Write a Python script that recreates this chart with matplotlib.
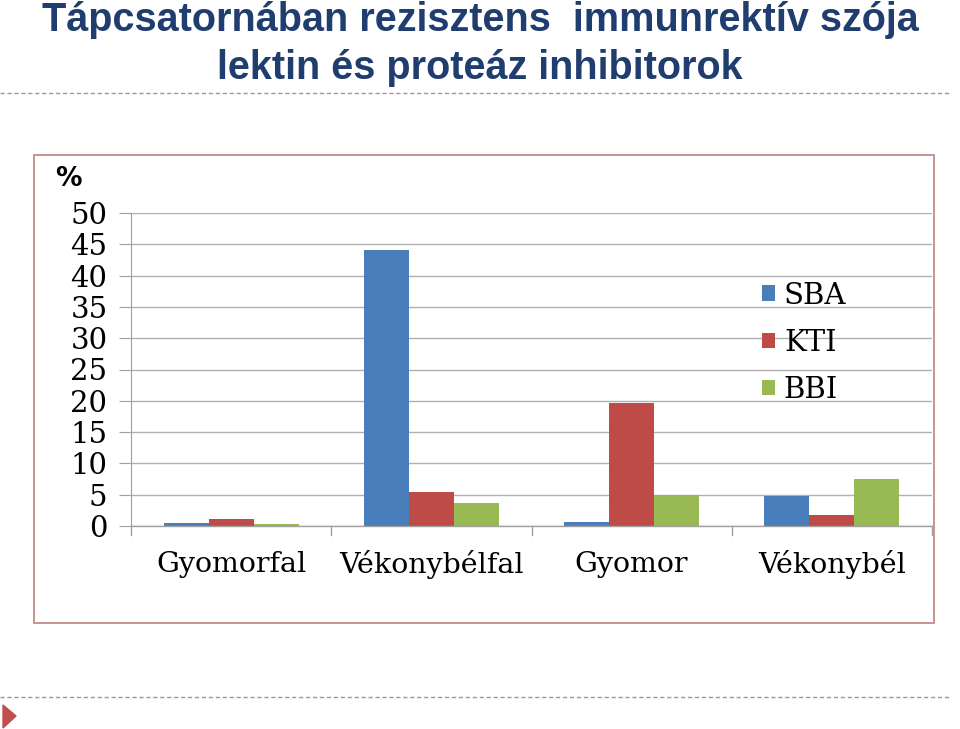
import matplotlib.pyplot as plt
import matplotlib.patches as patches
import numpy as np

categories = ['Gyomorfal', 'Vékonybélfal', 'Gyomor', 'Vékonybél']
sba = [0.5, 44.1, 0.6, 4.8]
kti = [1.1, 5.4, 19.7, 1.8]
bbi = [0.3, 3.7, 5.0, 7.5]
series = [('SBA', sba, '#4a7ebb'), ('KTI', kti, '#be4b48'), ('BBI', bbi, '#98b954')]

serif = 'DejaVu Serif'

fig = plt.figure(figsize=(9.6, 7.29), dpi=100)

# title
fig.text(0.5, 1 - 31 / 729, 'Tápcsatornában rezisztens  immunrektív szója',
         ha='center', va='baseline', fontsize=28.5, fontweight='bold', color='#1f3d6e',
         family=['Liberation Sans Narrow', 'Liberation Sans', 'DejaVu Sans'])
fig.text(0.5, 1 - 79 / 729, 'lektin és proteáz inhibitorok',
         ha='center', va='baseline', fontsize=28.5, fontweight='bold', color='#1f3d6e',
         family=['Liberation Sans Narrow', 'Liberation Sans', 'DejaVu Sans'])

# dashed separator lines
for yy in [1 - 93 / 729, 1 - 697 / 729]:
    fig.add_artist(plt.Line2D([0, 0.99], [yy, yy], transform=fig.transFigure,
                              color='#b09090', lw=1, ls=(0, (3, 2))))

# small triangle bottom left
fig.add_artist(patches.Polygon([[3 / 960, 1 - 705 / 729], [3 / 960, 1 - 728 / 729], [16 / 960, 1 - 716 / 729]],
                               closed=True, transform=fig.transFigure, color='#c0504d'))

# chart box
fig.add_artist(patches.Rectangle((34 / 960, 1 - 623 / 729), 900 / 960, 468 / 729,
                                 transform=fig.transFigure, fill=False, ec='#c08080', lw=1.2))

ax = fig.add_axes([131 / 960, 1 - 526 / 729, 801 / 960, 313 / 729])
x = np.arange(len(categories))
w = 0.225
for i, (name, vals, col) in enumerate(series):
    ax.bar(x + (i - 1) * w, vals, w, color=col, label=name, zorder=3)

ax.set_xlim(-0.5, 3.5)
ax.set_ylim(0, 50)
ax.set_yticks(range(0, 51, 5))
ax.yaxis.grid(True, color='#b0b0b0', lw=1, zorder=0)
for s in ['top', 'right', 'bottom']:
    ax.spines[s].set_visible(False)
ax.spines['left'].set_color('#a0a0a0')
ax.axhline(0, color='#a0a0a0', lw=1, zorder=4, clip_on=False)
ax.tick_params(axis='y', length=9, color='#a0a0a0', labelsize=21, pad=8)
for lab in ax.get_yticklabels():
    lab.set_family(serif)

ax.set_xticks([])
for b in [-0.5, 0.5, 1.5, 2.5, 3.5]:
    ax.plot([b, b], [0, -1.4], color='#a0a0a0', lw=1, clip_on=False)
for i, c in enumerate(categories):
    ax.text(i, -6.1, c, ha='center', va='center', fontsize=20.5, family=serif)

ax.text(-0.88, 55.5, '%', ha='left', va='center', fontsize=19, fontweight='bold', family='DejaVu Sans')

leg = ax.legend(loc='upper left', bbox_to_anchor=(0.755, 0.865), frameon=False,
                prop={'family': serif, 'size': 21}, handlelength=0.45, handleheight=0.45,
                handletextpad=0.3, labelspacing=0.66)

fig.savefig('out.png', dpi=100)
